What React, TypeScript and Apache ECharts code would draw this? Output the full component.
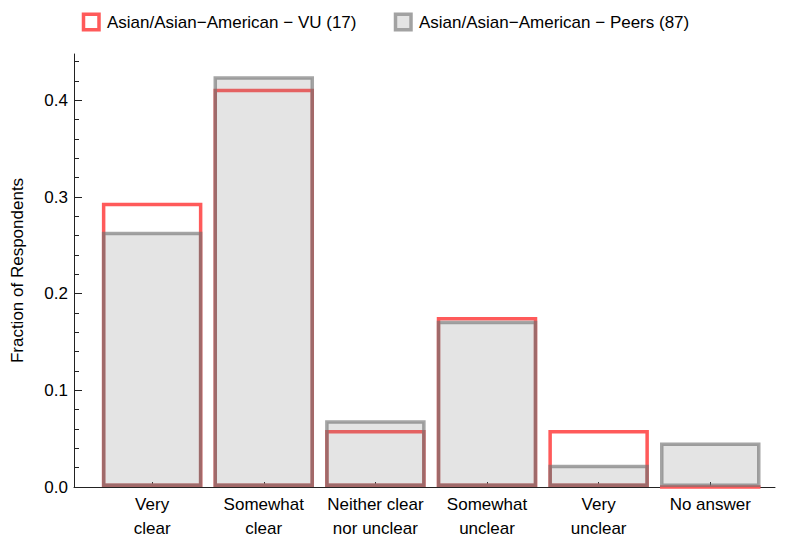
import React, { useEffect, useRef } from "react";
import * as echarts from "echarts";

const categories = [
  "Very\nclear",
  "Somewhat\nclear",
  "Neither clear\nnor unclear",
  "Somewhat\nunclear",
  "Very\nunclear",
  "No answer",
];
const categoryPositions = [1, 2, 3, 4, 5, 6];
const vuName = "Asian/Asian\u2212American \u2212 VU (17)";
const peersName = "Asian/Asian\u2212American \u2212 Peers (87)";
const vuValues = [0.294, 0.412, 0.059, 0.176, 0.059, 0];
const peersValues = [0.264, 0.425, 0.069, 0.172, 0.023, 0.046];
const yMajorTicks = [0, 0.1, 0.2, 0.3, 0.4];
const yMinorTicks = [0.02, 0.04, 0.06, 0.08, 0.12, 0.14, 0.16, 0.18, 0.22, 0.24, 0.26, 0.28, 0.32, 0.34, 0.36, 0.38, 0.42, 0.44];
const yAxisTitle = "Fraction of Respondents";

const FONT = "'Liberation Sans', Arial, Helvetica, sans-serif";
const RED = "#ff5a5a";
const GRAY_FILL = "rgba(128,128,128,0.21)";
const GRAY_EDGE = "rgba(112,112,112,0.63)";
const AXIS = "#222";

export default function App() {
  const ref = useRef<HTMLDivElement>(null);
  useEffect(() => {
    if (!ref.current) return;
    const chart = echarts.init(ref.current, undefined, { renderer: "svg" });
    const legendBase = {
      top: 12.5,
      padding: 0,
      itemWidth: 15.5,
      itemHeight: 15.5,
      icon: "rect",
      selectedMode: false,
      textStyle: { fontFamily: FONT, fontSize: 17, color: "#000", padding: [0, 0, 0, 3] },
    };
    chart.setOption({
      animation: false,
      textStyle: { fontFamily: FONT },
      legend: [
        {
          ...legendBase,
          left: 81.75,
          data: [{ name: vuName, itemStyle: { color: "#fff", borderColor: RED, borderWidth: 3.5 } }],
        },
        {
          ...legendBase,
          left: 393.75,
          data: [{ name: peersName, itemStyle: { color: "#e4e4e4", borderColor: "#a2a2a2", borderWidth: 3.5 } }],
        },
      ],
      grid: { left: 74, right: 10, top: 54, bottom: 55, containLabel: false },
      xAxis: {
        type: "value",
        min: 0.3,
        max: 6.58,
        splitLine: { show: false },
        axisLine: { show: true, lineStyle: { color: AXIS, width: 1 } },
        axisTick: { show: true, inside: true, length: 5, customValues: categoryPositions, lineStyle: { color: AXIS } },
        axisLabel: {
          customValues: categoryPositions,
          formatter: (v: number) => categories[Math.round(v) - 1] ?? "",
          fontFamily: FONT,
          fontSize: 17,
          color: "#000",
          lineHeight: 24,
          margin: 5,
        },
      },
      yAxis: [
        {
          type: "value",
          position: "left",
          min: 0,
          max: 0.448,
          name: yAxisTitle,
          nameLocation: "middle",
          nameRotate: 90,
          nameGap: 48,
          nameTextStyle: { fontFamily: FONT, fontSize: 17, color: "#000" },
          splitLine: { show: false },
          axisLine: { show: true, lineStyle: { color: AXIS, width: 1 } },
          axisTick: { show: true, inside: true, length: 8, customValues: yMajorTicks, lineStyle: { color: AXIS } },
          axisLabel: {
            customValues: yMajorTicks,
            formatter: (v: number) => v.toFixed(1),
            fontFamily: FONT,
            fontSize: 17,
            color: "#000",
            margin: 6,
          },
        },
        {
          type: "value",
          position: "left",
          offset: 0,
          min: 0,
          max: 0.448,
          splitLine: { show: false },
          axisLine: { show: false },
          axisTick: { show: true, inside: true, length: 5, customValues: yMinorTicks, lineStyle: { color: AXIS } },
          axisLabel: { show: false },
        },
      ],
      series: [
        {
          name: vuName,
          type: "bar",
          xAxisIndex: 0,
          yAxisIndex: 0,
          barWidth: 100.5,
          barGap: "-100%",
          silent: true,
          data: vuValues.map((v, i) => [categoryPositions[i], v]),
          itemStyle: { color: "rgba(0,0,0,0)", borderColor: RED, borderWidth: 3.5 },
        },
        {
          name: peersName,
          type: "bar",
          xAxisIndex: 0,
          yAxisIndex: 0,
          barWidth: 100.5,
          barGap: "-100%",
          silent: true,
          data: peersValues.map((v, i) => [categoryPositions[i], v]),
          itemStyle: { color: GRAY_FILL, borderColor: GRAY_EDGE, borderWidth: 3.5 },
        },
      ],
    });
    return () => chart.dispose();
  }, []);
  return (
    <div
      ref={ref}
      style={{ position: "fixed", left: 0, top: 0, width: 785, height: 542, background: "#fff" }}
    />
  );
}
